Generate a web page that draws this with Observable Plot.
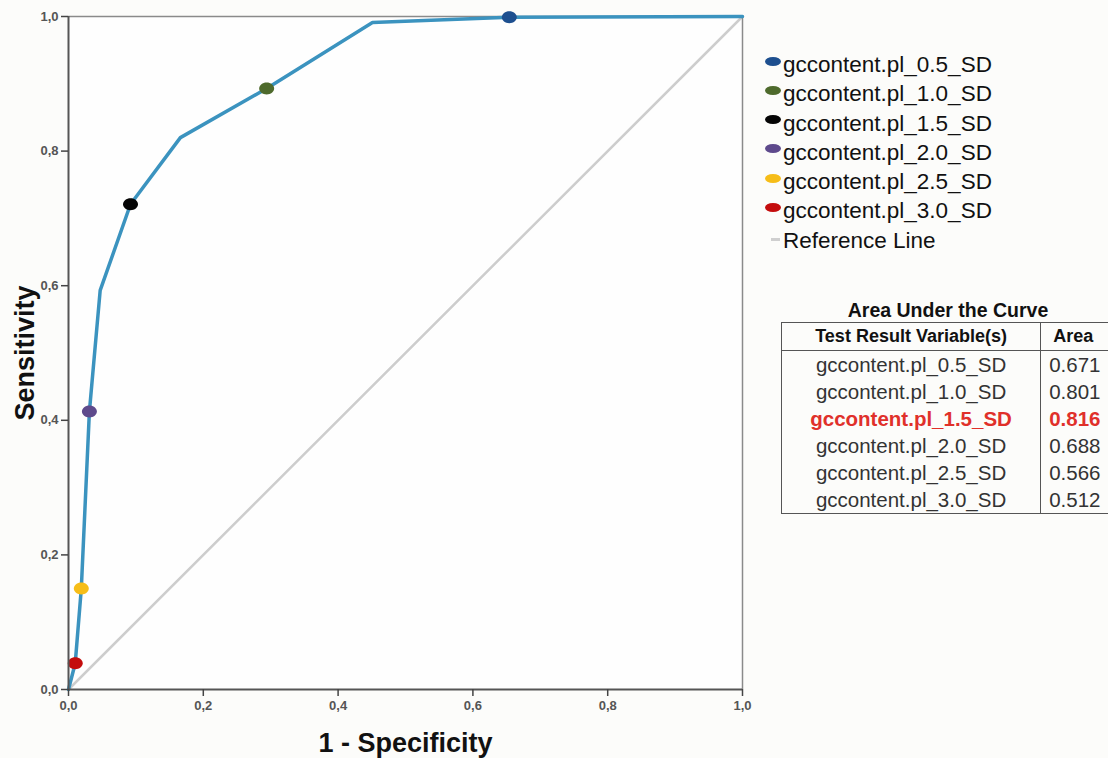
<!DOCTYPE html>
<html>
<head>
<meta charset="utf-8">
<script src="https://cdn.jsdelivr.net/npm/d3@7"></script>
<script src="https://cdn.jsdelivr.net/npm/@observablehq/plot@0.6"></script>
<style>
  html, body { margin: 0; padding: 0; background: #fcfcfa; overflow: hidden; width: 1108px; height: 758px; }
  body { font-family: "Liberation Sans", Arial, sans-serif; position: relative; }
  #chart { position: absolute; left: 0; top: 0; }
  #legend { position: absolute; left: 764px; top: 50px; }
  .lrow { position: relative; height: 29.3px; line-height: 29.3px; font-size: 22.5px; color: #111; white-space: nowrap; padding-left: 19px; }
  .lmark { position: absolute; left: 1px; top: 6.5px; width: 16px; height: 9px; border-radius: 50%; }
  .ldash { position: absolute; left: 7px; top: 12px; width: 9px; height: 3px; background: #cfcfcf; }
  #auc { position: absolute; left: 781px; top: 298px; }
  #auc .title { width: 334px; text-align: center; font-weight: bold; font-size: 19.5px; color: #111; height: 24px; line-height: 24px; }
  #auc table { border-collapse: collapse; color: #333; }
  #auc th { font-weight: bold; font-size: 18px; color: #111; height: 27px; border: 1.5px solid #555; padding: 0; }
  #auc td { font-size: 20.5px; height: 27px; line-height: 27px; padding: 0; border-left: 1.5px solid #555; border-right: 1.5px solid #555; }
  #auc tr:last-child td { border-bottom: 1.5px solid #555; }
  #auc td.v { text-align: left; padding-left: 8px; width: 66px; }
  #auc th.v { text-align: left; padding-left: 12px; width: 62px; }
  #auc td.n, #auc th.n { text-align: center; width: 263px; }
</style>
</head>
<body>
<div id="chart"></div>
<div id="legend"></div>
<div id="auc"></div>
<script>
// ROC curve vertices (1 - specificity, sensitivity)
const curveX = [0, 0.010, 0.019, 0.031, 0.047, 0.092, 0.166, 0.294, 0.451, 0.654, 1];
const curveY = [0, 0.039, 0.150, 0.413, 0.593, 0.721, 0.820, 0.893, 0.991, 0.999, 1];

// Cut-off points (one per variable)
const variables = ["gccontent.pl_0.5_SD", "gccontent.pl_1.0_SD", "gccontent.pl_1.5_SD",
                   "gccontent.pl_2.0_SD", "gccontent.pl_2.5_SD", "gccontent.pl_3.0_SD"];
const pointX = [0.654, 0.294, 0.092, 0.031, 0.019, 0.010];
const pointY = [0.999, 0.893, 0.721, 0.413, 0.150, 0.039];
const pointColors = ["#1d4f8f", "#4e6a2c", "#050505", "#5e4a8c", "#f6bd18", "#c40d0d"];
const areas = ["0.671", "0.801", "0.816", "0.688", "0.566", "0.512"];
const highlighted = "gccontent.pl_1.5_SD";

const ticks = [0, 0.2, 0.4, 0.6, 0.8, 1.0];
const refX = [0, 1];
const refY = [0, 1];

const curve = curveX.map((x, i) => ({x, y: curveY[i]}));
const points = variables.map((v, i) => ({v, x: pointX[i], y: pointY[i]}));
const ref = refX.map((x, i) => ({x, y: refY[i]}));
const fmt = d => d.toFixed(1).replace(".", ",");

// ellipse-shaped marker symbol (wider than tall)
const ellipse = {
  draw(ctx, size) {
    const r = Math.sqrt(size / Math.PI), rx = r * 1.15, ry = r * 0.92, k = 0.5523;
    ctx.moveTo(rx, 0);
    ctx.bezierCurveTo(rx, ry * k, rx * k, ry, 0, ry);
    ctx.bezierCurveTo(-rx * k, ry, -rx, ry * k, -rx, 0);
    ctx.bezierCurveTo(-rx, -ry * k, -rx * k, -ry, 0, -ry);
    ctx.bezierCurveTo(rx * k, -ry, rx, -ry * k, rx, 0);
    ctx.closePath();
  }
};

const chart = Plot.plot({
  width: 1108,
  height: 758,
  marginLeft: 68,
  marginRight: 366,
  marginTop: 16,
  marginBottom: 69,
  style: {fontFamily: "'Liberation Sans', Arial, sans-serif", background: "transparent", color: "#444"},
  x: {domain: [0, 1], ticks, tickFormat: fmt, label: null},
  y: {domain: [0, 1], ticks, tickFormat: fmt, label: null},
  color: {domain: variables, range: pointColors},
  marks: [
    Plot.frame({fill: "#fefefe", stroke: "none"}),
    Plot.line(ref, {x: "x", y: "y", stroke: "#cdcdcd", strokeWidth: 2.5}),
    Plot.ruleY([1], {stroke: "#8a8a8a", strokeWidth: 1.5}),
    Plot.ruleX([1], {stroke: "#8a8a8a", strokeWidth: 1.5}),
    Plot.line(curve, {x: "x", y: "y", stroke: "#3b93bf", strokeWidth: 3.5, strokeLinejoin: "round"}),
    Plot.dot(points, {x: "x", y: "y", fill: "v", r: 6.5, symbol: ellipse}),
    Plot.ruleX([0], {stroke: "#555", strokeWidth: 2}),
    Plot.ruleY([0], {stroke: "#555", strokeWidth: 2}),
    Plot.axisX({ticks, tickFormat: fmt, tickSize: 7, tickPadding: 4, fontSize: 13, fontWeight: "bold", fill: "#555", stroke: "#444", strokeWidth: 1.5, label: null}),
    Plot.axisY({ticks, tickFormat: fmt, tickSize: 7, tickPadding: 3, fontSize: 13, fontWeight: "bold", fill: "#555", stroke: "#444", strokeWidth: 1.5, label: null}),
    Plot.text(["Sensitivity"], {frameAnchor: "left", dx: -43, rotate: -90, textAnchor: "middle", lineAnchor: "middle", text: d => d, fontSize: 27, fontWeight: "bold", fill: "#111"}),
    Plot.text(["1 - Specificity"], {frameAnchor: "bottom", dy: 54, textAnchor: "middle", lineAnchor: "middle", text: d => d, fontSize: 27, fontWeight: "bold", fill: "#111"})
  ]
});
document.getElementById("chart").appendChild(chart);

// Legend
const legend = document.getElementById("legend");
variables.forEach((v, i) => {
  const row = document.createElement("div");
  row.className = "lrow";
  row.innerHTML = `<span class="lmark" style="background:${pointColors[i]}"></span>${v}`;
  legend.appendChild(row);
});
const refRow = document.createElement("div");
refRow.className = "lrow";
refRow.innerHTML = `<span class="ldash"></span>Reference Line`;
legend.appendChild(refRow);

// AUC table
const auc = document.getElementById("auc");
let html = `<div class="title">Area Under the Curve</div><table><tr><th class="n">Test Result Variable(s)</th><th class="v">Area</th></tr>`;
variables.forEach((v, i) => {
  const st = v === highlighted ? ' style="color:#e0302a;font-weight:bold"' : "";
  html += `<tr><td class="n"${st}>${v}</td><td class="v"${st}>${areas[i]}</td></tr>`;
});
html += `</table>`;
auc.innerHTML = html;
</script>
</body>
</html>
